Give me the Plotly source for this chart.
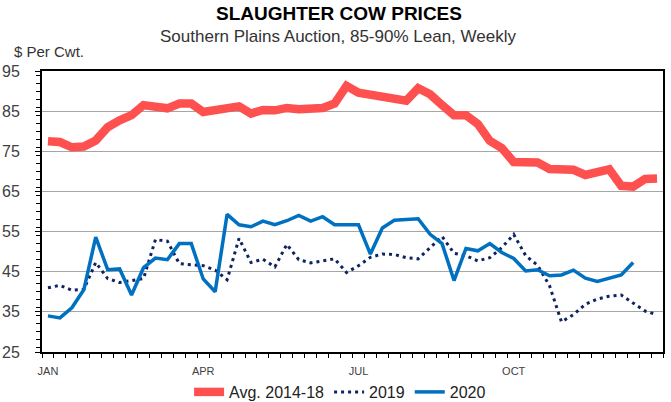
import plotly.graph_objects as go

weeks = list(range(1, 53))
tick_weeks = [1, 14, 27, 40]
tick_labels = ["JAN", "APR", "JUL", "OCT"]

avg_2014_18 = [77.5, 77.3, 76.0, 76.2, 77.7, 81.0, 82.7, 84.0, 86.5, 86.2,
               85.7, 86.9, 86.9, 84.8, 85.1, 85.9, 86.2, 84.4, 85.3, 85.2,
               85.8, 85.5, 85.6, 85.8, 86.9, 91.3, 89.6, 89.2, 88.4, 88.0,
               87.6, 90.7, 89.2, 86.5, 84.0, 84.0, 81.8, 77.6, 75.8, 72.3,
               72.5, 72.2, 70.6, 70.5, 70.4, 69.1, 69.8, 70.5, 66.4, 66.2,
               68.1, 68.2]

y2019 = [41.0, 41.6, 40.4, 40.6, 47.3, 43.3, 42.3, 42.8, 43.3, 53.0,
         52.6, 47.0, 46.7, 46.5, 45.4, 43.0, 53.3, 47.3, 48.1, 46.2,
         51.8, 48.0, 47.2, 47.7, 48.2, 44.8, 46.5, 48.6, 49.4, 49.3,
         48.5, 48.2, 51.0, 53.8, 49.6, 49.0, 47.7, 48.5, 51.0, 54.3,
         49.0, 46.6, 41.5, 32.5, 34.3, 36.9, 38.2, 38.9, 39.2, 37.1,
         35.2, 34.3]

y2020 = [34.0, 33.5, 36.0, 40.5, 53.6, 45.5, 45.7, 39.2, 46.0, 48.4,
         48.0, 52.0, 52.0, 43.2, 40.0, 59.3, 56.7, 56.2, 57.6, 56.7,
         57.7, 59.0, 57.6, 58.7, 56.7, 56.7, 56.7, 49.4, 55.9, 57.8,
         58.0, 58.2, 54.3, 52.0, 42.8, 50.8, 50.2, 52.0, 49.8, 48.3,
         45.2, 45.5, 44.0, 44.2, 45.4, 43.4, 42.6, 43.3, 44.2, 47.3,
         None, None]

SANS = "Liberation Sans, Arial, sans-serif"

fig = go.Figure()
fig.add_trace(go.Scatter(x=weeks, y=avg_2014_18, mode="lines", name="Avg. 2014-18",
                         line=dict(color="#FF5050", width=8.5)))
fig.add_trace(go.Scatter(x=weeks, y=y2019, mode="lines", name="2019",
                         line=dict(color="#0E2361", width=3, dash="3px,4px")))
fig.add_trace(go.Scatter(x=weeks, y=y2020, mode="lines", name="2020",
                         line=dict(color="#0070C0", width=3.5)))

fig.update_layout(
    width=671, height=402,
    margin=dict(l=42, r=8, t=71, b=50, autoexpand=False),
    paper_bgcolor="white", plot_bgcolor="white",
    showlegend=True,
    legend=dict(orientation="h", x=0.48, xanchor="center",
                yref="container", y=(402 - 392) / 402, yanchor="middle",
                font=dict(family=SANS, size=16, color="#222222"),
                bgcolor="rgba(0,0,0,0)"),
    annotations=[
        dict(text="<b>SLAUGHTER COW PRICES</b>", x=0.478, y=(352 - 13) / 281,
             xref="paper", yref="paper", xanchor="center", yanchor="middle",
             showarrow=False, font=dict(family=SANS, size=19, color="#000000")),
        dict(text="Southern Plains Auction, 85-90% Lean, Weekly", x=0.476, y=(352 - 36) / 281,
             xref="paper", yref="paper", xanchor="center", yanchor="middle",
             showarrow=False, font=dict(family=SANS, size=17, color="#333333")),
        dict(text="$ Per Cwt.", x=(12 - 42) / 621, y=(352 - 51) / 281,
             xref="paper", yref="paper", xanchor="left", yanchor="middle",
             showarrow=False, font=dict(family=SANS, size=15, color="#333333")),
    ],
)

fig.update_xaxes(
    range=[0.5, 52.5], tickmode="array", tickvals=tick_weeks, ticktext=tick_labels,
    ticks="", showgrid=False, zeroline=False, automargin=False,
    showline=True, linecolor="black", linewidth=2, mirror=True,
    tickfont=dict(family=SANS, size=11, color="#404040"),
    ticklabelstandoff=8,
    minor=dict(tickmode="linear", tick0=0.5, dtick=1, ticks="outside", ticklen=4,
               tickcolor="black", tickwidth=1, showgrid=False),
)
fig.update_yaxes(
    range=[25, 95], tick0=25, dtick=10, ticks="outside", ticklen=5, tickcolor="black",
    showgrid=True, gridcolor="#A6A6A6", gridwidth=1, zeroline=False, automargin=False,
    showline=True, linecolor="black", linewidth=2, mirror=True,
    tickfont=dict(family=SANS, size=16, color="#404040"),
    ticklabelstandoff=12,
    minor=dict(dtick=2, ticks="outside", ticklen=4, tickcolor="black", showgrid=False),
)

fig.write_html("out.html", config={"displayModeBar": False},
               post_script="document.body.style.margin='0';document.body.style.overflow='hidden';")
